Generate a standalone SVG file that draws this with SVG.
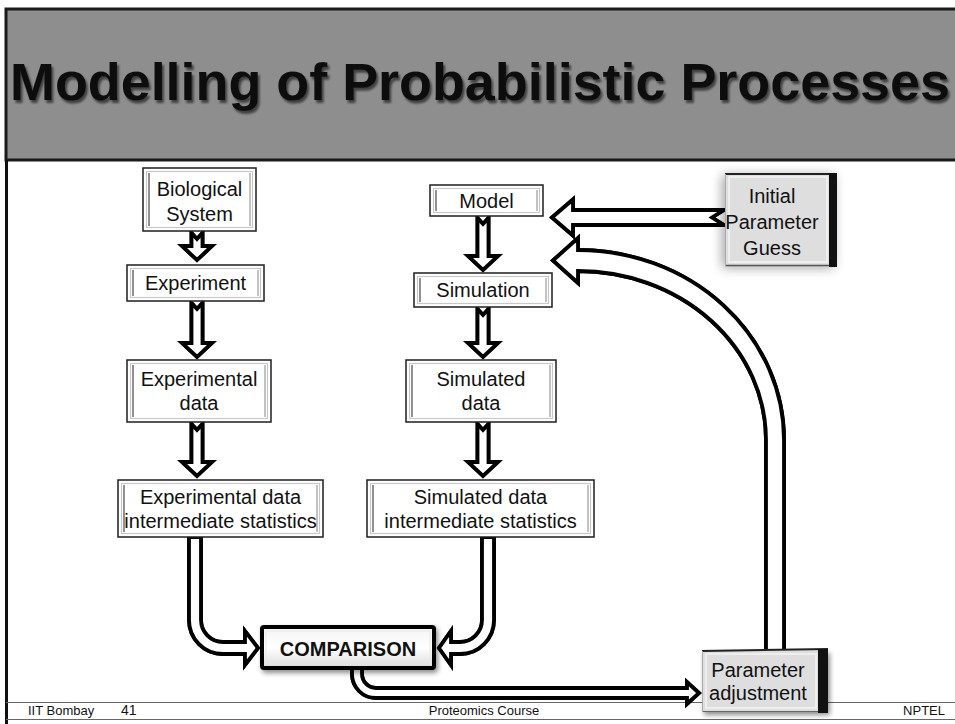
<svg xmlns="http://www.w3.org/2000/svg" width="955" height="724" viewBox="0 0 955 724">
  <style>
    text { font-family: "Liberation Sans", Arial, Helvetica, sans-serif; fill: #111; }
    .lbl { font-size: 20px; text-anchor: middle; }
    .frame { fill: #fff; stroke: #1e1e1e; stroke-width: 1.5; }
    .inner { fill: none; stroke: #c8c8c8; stroke-width: 1.2; }
    .sideL { stroke: #6c6c6c; stroke-width: 1.5; }
    .sideR { stroke: #9a9a9a; stroke-width: 1.2; }
    .arrow { fill: #fff; stroke: #000; stroke-width: 3.8; stroke-linejoin: miter; }
    .gap { fill: none; stroke: #fff; stroke-width: 1.1; stroke-linejoin: miter; }
    .foot { font-size: 13px; }
    .panel { fill: #dedede; }
  </style>
  <defs>
    <filter id="drop" x="-20%" y="-30%" width="150%" height="170%">
      <feGaussianBlur in="SourceAlpha" stdDeviation="2.5"/>
      <feOffset dx="2" dy="3"/>
      <feComponentTransfer><feFuncA type="linear" slope="0.45"/></feComponentTransfer>
      <feMerge><feMergeNode/><feMergeNode in="SourceGraphic"/></feMerge>
    </filter>
    <filter id="glow" x="-30%" y="-30%" width="160%" height="160%">
      <feGaussianBlur in="SourceAlpha" stdDeviation="6"/>
      <feOffset dx="-3" dy="2"/>
      <feComponentTransfer><feFuncA type="linear" slope="0.35"/></feComponentTransfer>
      <feMerge><feMergeNode/><feMergeNode in="SourceGraphic"/></feMerge>
    </filter>
    <filter id="titleShadow" x="-5%" y="-30%" width="110%" height="170%">
      <feGaussianBlur in="SourceAlpha" stdDeviation="1.3"/>
      <feOffset dx="2" dy="3"/>
      <feComponentTransfer><feFuncA type="linear" slope="0.55"/></feComponentTransfer>
      <feMerge><feMergeNode/><feMergeNode in="SourceGraphic"/></feMerge>
    </filter>
    <linearGradient id="bevel" x1="0" y1="0" x2="0" y2="1">
      <stop offset="0" stop-color="#f4f4f4"/>
      <stop offset="0.5" stop-color="#ffffff"/>
      <stop offset="1" stop-color="#dcdcdc"/>
    </linearGradient>
  </defs>

  <rect width="955" height="724" fill="#fff"/>

  <!-- title banner and slide frame -->
  <g id="title">
    <rect x="6" y="9" width="952" height="151" fill="#8e8e8e" stroke="#1a1a1a" stroke-width="3"/>
    <line x1="6.5" y1="160" x2="6.5" y2="724" stroke="#111" stroke-width="3"/>
    <text x="10" y="100" font-size="51" font-weight="bold" fill="#000" textLength="940" lengthAdjust="spacingAndGlyphs" filter="url(#titleShadow)">Modelling of Probabilistic Processes</text>
  </g>

  <!-- footer -->
  <g id="footer">
    <line x1="6" y1="702.5" x2="955" y2="702.5" stroke="#666" stroke-width="1"/>
    <line x1="6" y1="719.5" x2="955" y2="719.5" stroke="#666" stroke-width="1"/>
    <text class="foot" x="28" y="715">IIT Bombay</text>
    <text x="121" y="715" font-size="14">41</text>
    <text class="foot" x="484" y="715" text-anchor="middle">Proteomics Course</text>
    <text class="foot" x="945" y="715" text-anchor="end">NPTEL</text>
  </g>

  <!-- connectors: hollow block arrows -->
  <g id="connectors">
    <path id="a1" class="arrow" d="M191.5 233 L197 239 L202.5 233 L202.5 246 L212 246 L197 260 L182 246 L191.5 246 Z"/>
    <use href="#a1" class="gap"/>
    <path id="a2" class="arrow" d="M191.5 303 L197 309 L202.5 303 L202.5 343 L212 343 L197 357 L182 343 L191.5 343 Z"/>
    <use href="#a2" class="gap"/>
    <path id="a3" class="arrow" d="M191.5 424 L197 430 L202.5 424 L202.5 462 L212 462 L197 476 L182 462 L191.5 462 Z"/>
    <use href="#a3" class="gap"/>
    <path id="a4" class="arrow" d="M477.5 218 L483 224 L488.5 218 L488.5 256 L498 256 L483 270 L468 256 L477.5 256 Z"/>
    <use href="#a4" class="gap"/>
    <path id="a5" class="arrow" d="M477.5 309 L483 315 L488.5 309 L488.5 343 L498 343 L483 357 L468 343 L477.5 343 Z"/>
    <use href="#a5" class="gap"/>
    <path id="a6" class="arrow" d="M477.5 424 L483 430 L488.5 424 L488.5 462 L498 462 L483 476 L468 462 L477.5 462 Z"/>
    <use href="#a6" class="gap"/>
    <!-- initial guess into model -->
    <path id="a7" class="arrow" d="M552 217.5 L573 199.5 L573 210 L724 210 L712 217.5 L724 225 L573 225 L573 235.5 Z"/>
    <use href="#a7" class="gap"/>
    <!-- adjustment loop back to model -->
    <path id="a8" class="arrow" d="M553 260.5 L578 238 L578 250 A206 190 0 0 1 784 440 L784 652 L766 652 L766 440 A188 169 0 0 0 578 271 L578 283 Z"/>
    <use href="#a8" class="gap"/>
    <!-- statistics into comparison -->
    <path id="a9" class="arrow" d="M189 537 L189 620 A34 34 0 0 0 223 654 L245 654 L245 665 L258 648 L245 631 L245 642 L223 642 A22 22 0 0 1 201 620 L201 537 Z"/>
    <use href="#a9" class="gap"/>
    <path id="a10" class="arrow" d="M494 537 L494 620 A34 34 0 0 1 460 654 L451 654 L451 665 L439 648 L451 631 L451 642 L460 642 A22 22 0 0 0 482 620 L482 537 Z"/>
    <use href="#a10" class="gap"/>
    <!-- comparison to parameter adjustment -->
    <path id="a11" class="arrow" d="M352 668 L352 674 A24 24 0 0 0 376 698 L687 698 L687 704 L699 693 L687 682 L687 688 L376 688 A14 14 0 0 1 362 674 L362 668 Z"/>
    <use href="#a11" class="gap"/>
  </g>

  <!-- left column -->
  <g id="biological-system">
    <rect class="frame" x="143" y="168" width="113" height="63"/>
    <rect class="inner" x="146.5" y="171.5" width="106" height="56"/>
    <line class="sideL" x1="149" y1="173" x2="149" y2="226"/>
    <line class="sideR" x1="250" y1="173" x2="250" y2="226"/>
    <text class="lbl" x="199.5" y="196">Biological</text>
    <text class="lbl" x="199.5" y="221">System</text>
  </g>
  <g id="experiment">
    <rect class="frame" x="127" y="265" width="137" height="36"/>
    <rect class="inner" x="130.5" y="268.5" width="130" height="29"/>
    <line class="sideL" x1="133" y1="270" x2="133" y2="296"/>
    <line class="sideR" x1="258" y1="270" x2="258" y2="296"/>
    <text class="lbl" x="195.5" y="290" font-size="20.5">Experiment</text>
  </g>
  <g id="experimental-data">
    <rect class="frame" x="127" y="360" width="144" height="62"/>
    <rect class="inner" x="130.5" y="363.5" width="137" height="55"/>
    <line class="sideL" x1="133" y1="365" x2="133" y2="417"/>
    <line class="sideR" x1="265" y1="365" x2="265" y2="417"/>
    <text class="lbl" x="199" y="386" font-size="19.5">Experimental</text>
    <text class="lbl" x="199" y="410" font-size="19.5">data</text>
  </g>
  <g id="experimental-statistics">
    <rect class="frame" x="118" y="480" width="205" height="57"/>
    <rect class="inner" x="121.5" y="483.5" width="198" height="50"/>
    <line class="sideL" x1="124" y1="485" x2="124" y2="532"/>
    <line class="sideR" x1="317" y1="485" x2="317" y2="532"/>
    <text class="lbl" x="220.5" y="504" font-size="19">Experimental data</text>
    <text class="lbl" x="220.5" y="528" font-size="19">intermediate statistics</text>
  </g>

  <!-- middle column -->
  <g id="model">
    <rect class="frame" x="430" y="185" width="113" height="31"/>
    <rect class="inner" x="433.5" y="188.5" width="106" height="24"/>
    <line class="sideL" x1="436" y1="190" x2="436" y2="211"/>
    <line class="sideR" x1="537" y1="190" x2="537" y2="211"/>
    <text class="lbl" x="486.5" y="207.5" font-size="20.5">Model</text>
  </g>
  <g id="simulation">
    <rect class="frame" x="414" y="273" width="138" height="34"/>
    <rect class="inner" x="417.5" y="276.5" width="131" height="27"/>
    <line class="sideL" x1="420" y1="278" x2="420" y2="302"/>
    <line class="sideR" x1="546" y1="278" x2="546" y2="302"/>
    <text class="lbl" x="483" y="297" font-size="20.5">Simulation</text>
  </g>
  <g id="simulated-data">
    <rect class="frame" x="406" y="360" width="150" height="62"/>
    <rect class="inner" x="409.5" y="363.5" width="143" height="55"/>
    <line class="sideL" x1="412" y1="365" x2="412" y2="417"/>
    <line class="sideR" x1="550" y1="365" x2="550" y2="417"/>
    <text class="lbl" x="481" y="386" font-size="19.5">Simulated</text>
    <text class="lbl" x="481" y="410" font-size="19.5">data</text>
  </g>
  <g id="simulated-statistics">
    <rect class="frame" x="367" y="480" width="227" height="57"/>
    <rect class="inner" x="370.5" y="483.5" width="220" height="50"/>
    <line class="sideL" x1="373" y1="485" x2="373" y2="532"/>
    <line class="sideR" x1="588" y1="485" x2="588" y2="532"/>
    <text class="lbl" x="480.5" y="504" font-size="19">Simulated data</text>
    <text class="lbl" x="480.5" y="528" font-size="19">intermediate statistics</text>
  </g>

  <!-- comparison -->
  <g id="comparison">
    <rect x="262" y="627" width="172" height="41" rx="2" fill="url(#bevel)" stroke="#000" stroke-width="4" filter="url(#drop)"/>
    <rect x="266" y="631" width="164" height="33" fill="none" stroke="#e8e8e8" stroke-width="1"/>
    <text class="lbl" x="348" y="656" font-weight="bold">COMPARISON</text>
  </g>

  <!-- raised panels -->
  <g id="initial-parameter-guess">
    <rect class="panel" x="725" y="173" width="112" height="93" filter="url(#glow)"/>
    <rect x="729" y="177" width="98" height="85" fill="none" stroke="#f3f3f3" stroke-width="1.5"/>
    <line x1="725" y1="174" x2="837" y2="174" stroke="#222" stroke-width="2"/>
    <line x1="725" y1="265.5" x2="830" y2="265.5" stroke="#555" stroke-width="1.5"/>
    <line x1="725.5" y1="174" x2="725.5" y2="266" stroke="#aaa" stroke-width="1"/>
    <rect x="829" y="173" width="8" height="94" fill="#111"/>
    <text class="lbl" x="772" y="203" font-size="19.5">Initial</text>
    <text class="lbl" x="772" y="229" font-size="19.5">Parameter</text>
    <text class="lbl" x="772" y="255" font-size="19.5">Guess</text>
  </g>
  <g id="parameter-adjustment">
    <rect class="panel" x="702" y="650" width="126" height="62" filter="url(#drop)"/>
    <rect x="706" y="654" width="110" height="54" fill="none" stroke="#f3f3f3" stroke-width="1.5"/>
    <line x1="702" y1="651" x2="828" y2="649" stroke="#222" stroke-width="2"/>
    <line x1="702" y1="711.5" x2="820" y2="711.5" stroke="#666" stroke-width="1.2"/>
    <line x1="702.5" y1="651" x2="702.5" y2="712" stroke="#aaa" stroke-width="1"/>
    <rect x="818" y="649" width="10" height="64" fill="#111"/>
    <text class="lbl" x="758" y="677" font-size="19">Parameter</text>
    <text class="lbl" x="758" y="700" font-size="19">adjustment</text>
  </g>
</svg>
